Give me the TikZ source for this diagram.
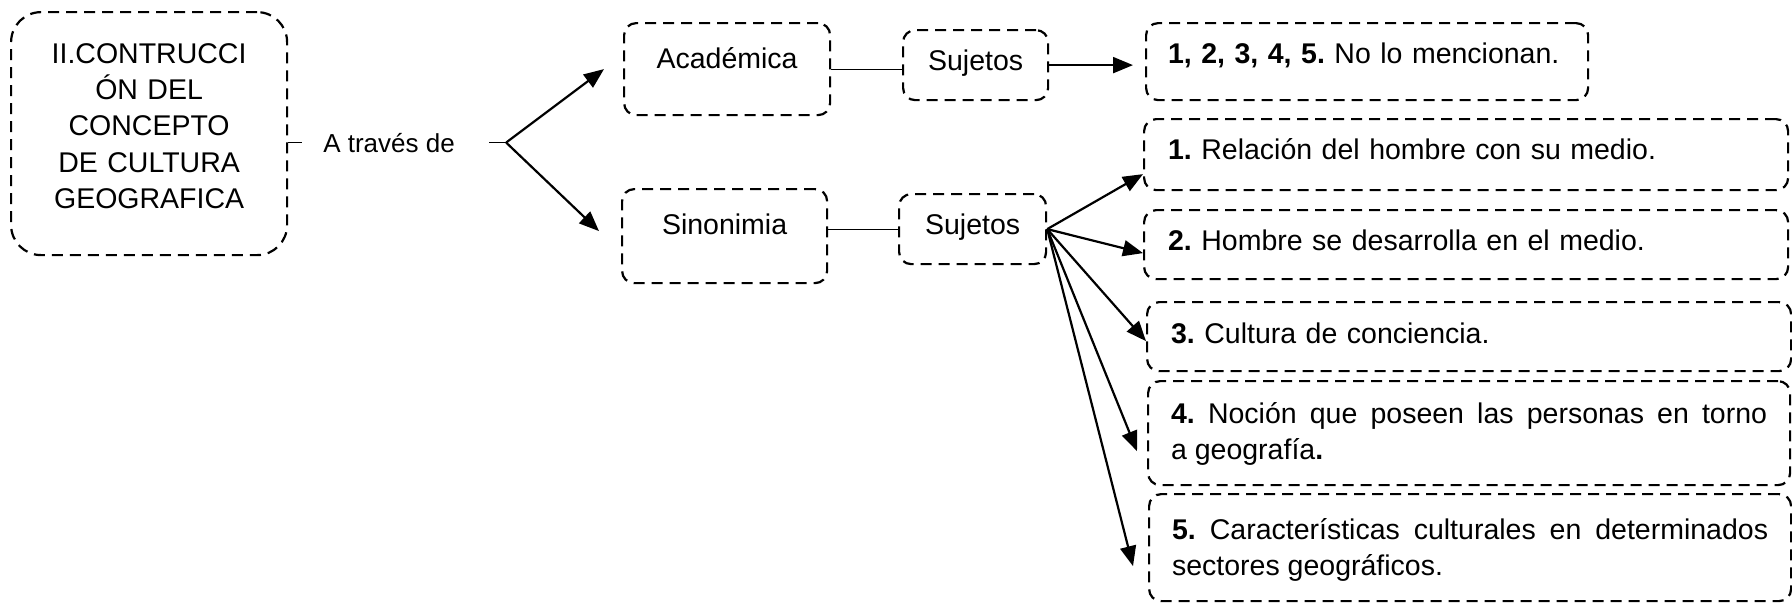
\documentclass[tikz,border=0pt]{standalone}
\usepackage{fontspec}
\setmainfont{Liberation Sans}
\usepackage{tikz}
\usetikzlibrary{arrows.meta}
\usetikzlibrary{positioning}
\frenchspacing

\tikzset{
  caja/.style={draw, dash pattern=on 5.5pt off 3.5pt, line width=1.1pt, rounded corners=6pt,
    anchor=north west, inner ysep=0pt, minimum height=0pt, font=\fontsize{14.25}{18.15}\selectfont},
  lista/.style={caja, inner xsep=12pt, text width=298pt, align=left},
  flecha/.style={-{Triangle[length=10pt,width=8pt]}, line width=1.1pt},
  enlace/.style={line width=0.6pt}
}

\begin{document}
\begin{tikzpicture}[x=0.5pt, y=-0.5pt]
  \useasboundingbox (0,0) rectangle (1792,602);

  \node (concepto) [caja, rounded corners=15pt, inner xsep=0pt, text width=138pt, align=center,
    text height=25.5pt, text depth=96pt] at (10,11) {II.CONTRUCCI\\ÓN DEL\\CONCEPTO\\DE CULTURA\\GEOGRAFICA};
  \node (via) [anchor=base, inner xsep=10.5pt, font=\fontsize{13}{16}\selectfont] at (389,152) {A través de};

  \node (academica) [caja, inner xsep=0pt, minimum width=103pt, text height=22.5pt, text depth=23.5pt] at (623,22) {Académica};
  \node (sujetos1) [caja, inner xsep=0pt, minimum width=72.5pt, text height=20pt, text depth=15pt] at (902,29) {Sujetos};
  \node (sinonimia) [caja, inner xsep=0pt, minimum width=102.5pt, text height=22.5pt, text depth=24.5pt] at (621,188) {Sinonimia};
  \node (sujetos2) [caja, inner xsep=0pt, minimum width=73.5pt, text height=20pt, text depth=15pt] at (898,193) {Sujetos};

  \node (ninguno) [lista, inner xsep=11pt, text width=199pt, text height=20pt, text depth=18.5pt] at (1145,22) {\textbf{1, 2, 3, 4, 5.} No lo mencionan.};
  \node (suj1) [lista, text height=20pt, text depth=15.5pt] at (1143,118) {\textbf{1.} Relación del hombre con su medio.};
  \node (suj2) [lista, text height=20pt, text depth=14.5pt] at (1143,209) {\textbf{2.} Hombre se desarrolla en el medio.};
  \node (suj3) [lista, text height=20.5pt, text depth=14pt] at (1146,301) {\textbf{3.} Cultura de conciencia.};
  \node (suj4) [lista, inner xsep=11.5pt, align=justify, text height=21pt, text depth=31pt] at (1147,380)
    {\textbf{4.} Noción que poseen las personas en torno\linebreak a geografía\textbf{.}};
  \node (suj5) [lista, inner xsep=11.5pt, align=justify, text height=22.5pt, text depth=31pt] at (1148,493)
    {\textbf{5.} Características culturales en determinados\linebreak sectores geográficos.};

  \coordinate (horquilla) at ([xshift=15pt]via.east);

  \draw[enlace] (concepto.east |- via) -- (via.west);
  \draw[enlace, shorten <=6.5pt] (via.east) -- (horquilla);
  \draw[flecha] (horquilla) -- ([xshift=-9.5pt]academica.west);
  \draw[flecha] (horquilla) -- ([xshift=-11pt,yshift=2.5pt]sinonimia.west);

  \draw[enlace] (academica.east) -- (academica.east -| sujetos1.west);
  \draw[enlace] (sujetos2.west -| sinonimia.east) -- (sujetos2.west);

  \draw[flecha, shorten >=6pt] (sujetos1.east) -- (sujetos1.east -| ninguno.west);
  \draw[flecha] (sujetos2.east) -- ([yshift=-9.75pt]suj1.west);
  \draw[flecha] (sujetos2.east) -- ([yshift=-4.25pt]suj2.west);
  \draw[flecha] (sujetos2.east) -- ([yshift=-2.25pt]suj3.west);
  \draw[flecha] (sujetos2.east) -- ([xshift=-5pt,yshift=-9pt]suj4.west);
  \draw[flecha] (sujetos2.east) -- ([xshift=-7.5pt,yshift=-9.25pt]suj5.west);
\end{tikzpicture}
\end{document}
